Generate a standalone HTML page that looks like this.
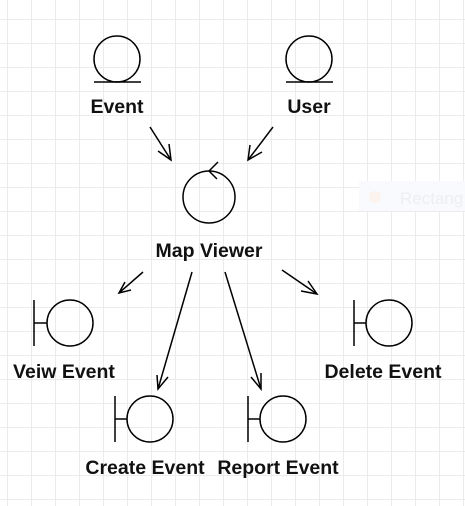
<!DOCTYPE html>
<html><head><style>
html,body{margin:0;padding:0;}
body{width:465px;height:506px;overflow:hidden;background:#fff;
background-image:linear-gradient(#ebebeb 1px,transparent 1px),linear-gradient(90deg,#ebebeb 1px,transparent 1px);
background-size:24px 24px;background-position:7px 19px;}
svg{position:absolute;left:0;top:0;}
text{font-family:"Liberation Sans",sans-serif;font-weight:bold;font-size:19.5px;fill:#111;text-anchor:middle;}
</style></head><body>
<svg width="465" height="506" viewBox="0 0 465 506">
<rect x="359" y="181" width="106" height="30" fill="#f8fafd"/>
<circle cx="375" cy="197" r="6" fill="#fcf2ee"/>
<text x="400" y="204" style="font-weight:normal;font-size:17px;fill:#eceef2;text-anchor:start">Rectang</text>
<g fill="none" stroke="#000" stroke-width="1.5">
<circle cx="117" cy="59" r="23"/><line x1="94" y1="82" x2="141" y2="82"/>
<circle cx="309" cy="59" r="23"/><line x1="286" y1="82" x2="333" y2="82"/>
<circle cx="209" cy="197" r="26"/><polyline points="218,162 209,171 217,179"/>
<line x1="34" y1="300" x2="34" y2="346"/><line x1="34" y1="323" x2="47" y2="323"/><circle cx="70" cy="323" r="23"/>
<line x1="115" y1="396" x2="115" y2="442"/><line x1="115" y1="419" x2="127" y2="419"/><circle cx="150" cy="419" r="23"/>
<line x1="248" y1="396" x2="248" y2="442"/><line x1="248" y1="419" x2="260" y2="419"/><circle cx="283" cy="419" r="23"/>
<line x1="354" y1="300" x2="354" y2="346"/><line x1="354" y1="323" x2="366" y2="323"/><circle cx="389" cy="323" r="23"/>
<line x1="150" y1="127" x2="171" y2="160"/><polyline points="158,151 171,160 169,144"/>
<line x1="273" y1="127" x2="248" y2="160"/><polyline points="250,145 248,160 262,152"/>
<line x1="143" y1="272" x2="119" y2="293"/><polyline points="125,282 119,293 131,290"/>
<line x1="192" y1="272" x2="158" y2="389"/><polyline points="157,375 158,389 168,377"/>
<line x1="225" y1="272" x2="261" y2="389"/><polyline points="251,377 261,389 261,373"/>
<line x1="282" y1="270" x2="317" y2="294"/><polyline points="308,281 317,294 301,291"/>
</g>
<text x="117" y="113">Event</text>
<text x="309" y="113">User</text>
<text x="209" y="257">Map Viewer</text>
<text x="64" y="378">Veiw Event</text>
<text x="383" y="378">Delete Event</text>
<text x="145" y="474">Create Event</text>
<text x="278" y="474">Report Event</text>
</svg>
</body></html>
